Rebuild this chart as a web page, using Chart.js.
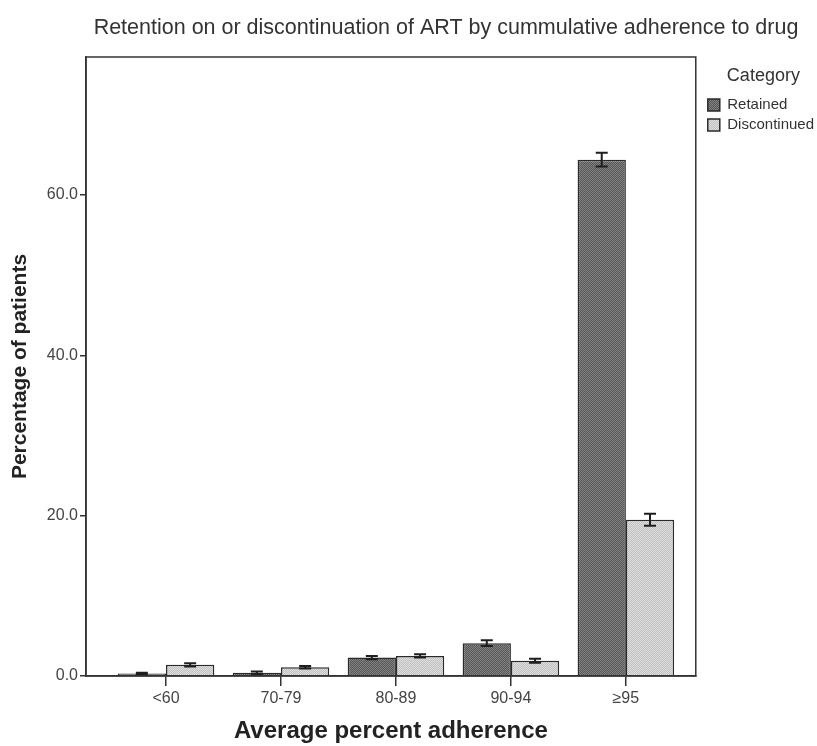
<!DOCTYPE html>
<html>
<head>
<meta charset="utf-8">
<script src="https://cdn.jsdelivr.net/npm/chart.js@4"></script>
<style>
  html, body { margin: 0; padding: 0; background: #fff; }
  #wrap { width: 817px; height: 746px; }
</style>
</head>
<body>
<div id="wrap"><canvas id="retentionChart" width="817" height="746"></canvas></div>
<script>
// categories and values (percent of patients)
const categories = ["<60", "70-79", "80-89", "90-94", "≥95"];
const retained = [0.3, 0.4, 2.3, 4.1, 64.4];
const retainedErr = [0.1, 0.15, 0.2, 0.35, 0.85];
const discontinued = [1.4, 1.1, 2.5, 1.9, 19.5];
const discontinuedErr = [0.2, 0.15, 0.2, 0.25, 0.75];
const yTicks = [0, 20, 40, 60];

const chartTitle = "Retention on or discontinuation of ART by cummulative adherence to drug";
const FONT = "'Liberation Sans', Arial, sans-serif";

// stippled fill like the printed figure
function stipple(c1, c2) {
    const p = document.createElement("canvas");
    p.width = 2; p.height = 2;
    const g = p.getContext("2d");
    g.fillStyle = c1; g.fillRect(0, 0, 2, 2);
    g.fillStyle = c2; g.fillRect(0, 0, 1, 1); g.fillRect(1, 1, 1, 1);
    return g.createPattern(p, "repeat");
}

const ctx = document.getElementById("retentionChart").getContext("2d");
const darkFill = stipple("#565656", "#838383");
const lightFill = stipple("#c0c0c0", "#dedede");

// error bars drawn from the data through the y scale
const errorBars = {
    id: "errorBars",
    afterDatasetsDraw(chart) {
        const c = chart.ctx;
        const y = chart.scales.y;
        chart.data.datasets.forEach((ds, di) => {
            const meta = chart.getDatasetMeta(di);
            meta.data.forEach((bar, i) => {
                const v = ds.data[i].y;
                const e = ds.errors[i];
                const top = y.getPixelForValue(v + e);
                const bot = y.getPixelForValue(v - e);
                c.save();
                c.strokeStyle = "#1e1e1e";
                c.lineWidth = 2;
                c.beginPath();
                c.moveTo(bar.x, top); c.lineTo(bar.x, bot);
                c.moveTo(bar.x - 6, top); c.lineTo(bar.x + 6, top);
                c.moveTo(bar.x - 6, bot); c.lineTo(bar.x + 6, bot);
                c.stroke();
                c.restore();
            });
        });
    }
};

// frame round the plot, the title text, and a small nudge of the legend to the right
const frame = {
    id: "frame",
    afterLayout(chart) {
        chart.legend.left += 7;
        chart.legend.right += 7;
    },
    afterDraw(chart) {
        const a = chart.chartArea;
        const c = chart.ctx;
        c.save();
        c.strokeStyle = "#333";
        c.lineWidth = 1.5;
        c.strokeRect(a.left, a.top, a.right - a.left, a.bottom - a.top);
        c.fillStyle = "#333";
        c.font = "21.5px " + FONT;
        c.textAlign = "center";
        c.textBaseline = "middle";
        c.fillText(chartTitle, 446, 28);
        c.restore();
    }
};

new Chart(ctx, {
    type: "bar",
    data: {
        datasets: [
            {
                label: "Retained",
                data: retained.map((v, i) => ({ x: i + 1, y: v })),
                errors: retainedErr,
                backgroundColor: darkFill,
                borderColor: "#2a2a2a",
                borderWidth: 1.5
            },
            {
                label: "Discontinued",
                data: discontinued.map((v, i) => ({ x: i + 1, y: v })),
                errors: discontinuedErr,
                backgroundColor: lightFill,
                borderColor: "#2a2a2a",
                borderWidth: 1.5
            }
        ]
    },
    options: {
        responsive: false,
        animation: false,
        categoryPercentage: 0.84,
        barPercentage: 1.0,
        layout: { padding: { top: 57, left: 0, right: 0, bottom: 0 } },
        plugins: {
            title: { display: false },
            tooltip: { enabled: false },
            legend: {
                position: "right",
                align: "start",
                title: {
                    display: true,
                    text: "Category",
                    color: "#333",
                    font: { family: FONT, size: 18 },
                    padding: { top: 10, bottom: 4 }
                },
                labels: {
                    boxWidth: 12,
                    boxHeight: 12,
                    padding: 5,
                    color: "#333",
                    font: { family: FONT, size: 15 }
                }
            }
        },
        scales: {
            x: {
                type: "linear",
                min: 0.304,
                max: 5.608,
                offset: false,
                afterBuildTicks(scale) {
                    scale.ticks = categories.map((c, i) => ({ value: i + 1 }));
                },
                afterFit(scale) { scale.height = 70; },
                ticks: {
                    callback: v => categories[v - 1],
                    color: "#444",
                    padding: 3,
                    maxRotation: 0,
                    font: { family: FONT, size: 16 }
                },
                grid: { offset: false, drawOnChartArea: false, drawTicks: true, tickLength: 10, color: "#333", lineWidth: 1.5 },
                border: { display: true, color: "#333", width: 1.5 },
                title: {
                    display: true,
                    text: "Average percent adherence",
                    color: "#222",
                    padding: { top: 0, bottom: 0 },
                    font: { family: FONT, size: 24, weight: "bold" }
                }
            },
            y: {
                min: 0,
                max: 77.2,
                afterBuildTicks(scale) {
                    scale.ticks = yTicks.map(v => ({ value: v }));
                },
                afterFit(scale) { scale.width = 86; },
                ticks: {
                    callback: v => v.toFixed(1),
                    color: "#444",
                    padding: 2,
                    font: { family: FONT, size: 16 }
                },
                grid: { drawOnChartArea: false, drawTicks: true, tickLength: 6, color: "#333", lineWidth: 1.5 },
                border: { display: true, color: "#333", width: 1.5 },
                title: {
                    display: true,
                    text: "Percentage of patients",
                    color: "#222",
                    padding: { top: 8, bottom: 0 },
                    font: { family: FONT, size: 21, weight: "bold" }
                }
            }
        }
    },
    plugins: [errorBars, frame]
});
</script>
</body>
</html>
